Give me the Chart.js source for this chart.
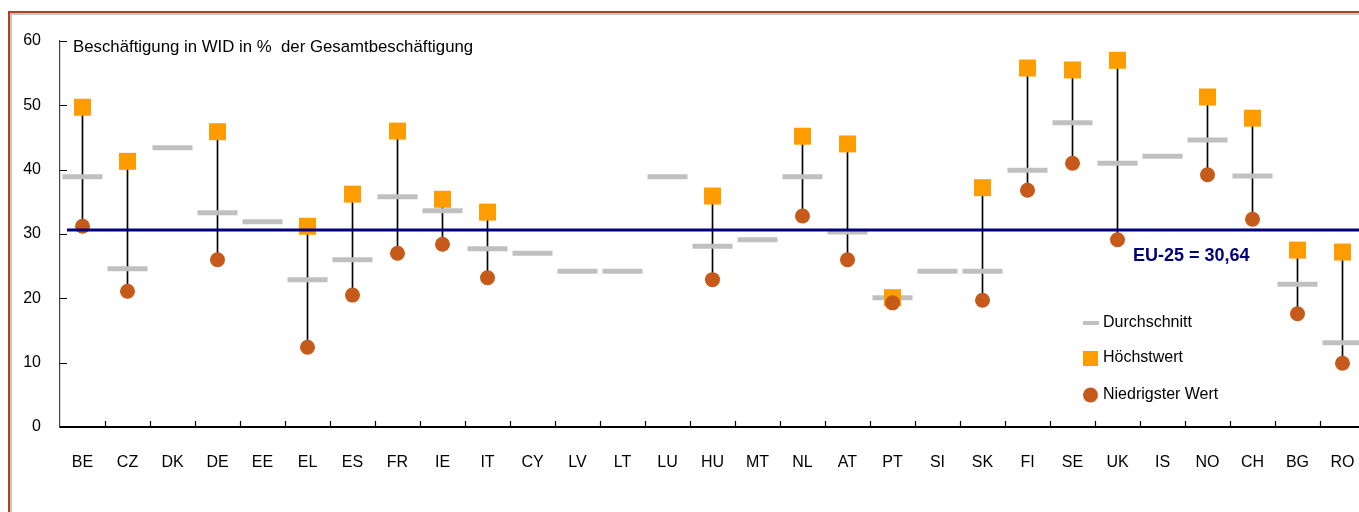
<!DOCTYPE html>
<html>
<head>
<meta charset="utf-8">
<script src="https://cdn.jsdelivr.net/npm/chart.js@4.4.0/dist/chart.umd.min.js"></script>
<style>
  html, body { margin: 0; padding: 0; background: #fff; overflow: hidden; }
  #wrap { position: relative; width: 1359px; height: 512px; overflow: hidden; }
  #chart { position: absolute; left: 0; top: 0; }
  #frame {
    position: absolute; left: 8px; top: 11px; width: 2000px; height: 1000px;
    border-top: 2px solid #a9461d; border-left: 2px solid #a9461d;
    box-shadow: inset 2px 2px 0 #c4c4c4; pointer-events: none;
  }
</style>
</head>
<body>
<div id="wrap">
  <!-- canvas is wider than the window: the plot runs past the right edge like in the original -->
  <canvas id="chart" width="1390" height="512"></canvas>
  <div id="frame"></div>
</div>
<script>
const countries = ['BE', 'CZ', 'DK', 'DE', 'EE', 'EL', 'ES', 'FR', 'IE', 'IT', 'CY', 'LV', 'LT', 'LU', 'HU',
  'MT', 'NL', 'AT', 'PT', 'SI', 'SK', 'FI', 'SE', 'UK', 'IS', 'NO', 'CH', 'BG', 'RO'];
const avgValues = [38.9, 24.6, 43.4, 33.3, 31.9, 22.9, 26.0, 35.8, 33.6, 27.7, 27.0, 24.2, 24.2, 38.9, 28.1,
  29.1, 38.9, 30.3, 20.1, 24.2, 24.2, 39.9, 47.3, 41.0, 42.1, 44.6, 39.0, 22.2, 13.1];
const maxValues = [49.7, 41.3, null, 45.9, null, 31.2, 36.2, 46.0, 35.4, 33.4, null, null, null, null, 35.9,
  null, 45.2, 44.0, 20.1, null, 37.2, 55.8, 55.5, 57.0, null, 51.3, 48.0, 27.5, 27.2];
const minValues = [31.2, 21.1, null, 26.0, null, 12.4, 20.5, 27.0, 28.4, 23.2, null, null, null, null, 22.9,
  null, 32.8, 26.0, 19.3, null, 19.7, 36.8, 41.0, 29.1, null, 39.2, 32.3, 17.6, 9.9];
const euValue = 30.64;
const euLabel = 'EU-25 = 30,64';
const titleText = 'Beschäftigung in WID in %  der Gesamtbeschäftigung';

const rangeData = countries.map((c, i) => maxValues[i] == null ? null : [minValues[i], maxValues[i]]);

const FONT = "'Liberation Sans', Arial, sans-serif";
const ORANGE = '#ff9c00';
const BROWN = '#c55a1a';
const GREY = '#c0c0c0';
const NAVY = '#00007f';

const decor = {
  id: 'decor',
  afterDatasetsDraw(chart) {
    const ctx = chart.ctx;
    const x = chart.scales.x, y = chart.scales.y;
    const area = chart.chartArea;
    ctx.save();

    // tick marks inside the axes
    ctx.strokeStyle = '#000';
    ctx.lineWidth = 1.2;
    const half = (x.getPixelForValue(1) - x.getPixelForValue(0)) / 2;
    ctx.beginPath();
    for (let i = 0; i < countries.length; i++) {
      const px = Math.round(x.getPixelForValue(i) + half) + 0.5;
      ctx.moveTo(px, area.bottom);
      ctx.lineTo(px, area.bottom - 6);
    }
    y.ticks.forEach(t => {
      const py = Math.round(y.getPixelForValue(t.value)) + 0.5;
      ctx.moveTo(area.left, py);
      ctx.lineTo(area.left + 7, py);
    });
    ctx.stroke();

    // EU average line
    const ey = y.getPixelForValue(euValue);
    ctx.strokeStyle = NAVY;
    ctx.lineWidth = 3;
    ctx.beginPath();
    ctx.moveTo(area.left + 7, ey);
    ctx.lineTo(area.right, ey);
    ctx.stroke();

    ctx.fillStyle = NAVY;
    ctx.font = 'bold 18px ' + FONT;
    ctx.textBaseline = 'middle';
    ctx.textAlign = 'left';
    ctx.fillText(euLabel, 1133, ey + 26);

    // title inside the plot
    ctx.fillStyle = '#000';
    ctx.font = '16.8px ' + FONT;
    ctx.fillText(titleText, area.left + 13, y.getPixelForValue(60) + 6);

    // legend
    const lx = 1083;
    ctx.strokeStyle = GREY;
    ctx.lineWidth = 4;
    ctx.beginPath();
    ctx.moveTo(lx, 323);
    ctx.lineTo(lx + 16, 323);
    ctx.stroke();
    ctx.fillStyle = ORANGE;
    ctx.fillRect(lx, 351, 15, 15);
    ctx.fillStyle = BROWN;
    ctx.beginPath();
    ctx.arc(lx + 7.5, 395, 7.5, 0, Math.PI * 2);
    ctx.fill();
    ctx.fillStyle = '#000';
    ctx.font = '16px ' + FONT;
    ctx.fillText(chart.data.datasets[1].label, lx + 20, 323);
    ctx.fillText(chart.data.datasets[2].label, lx + 20, 358);
    ctx.fillText(chart.data.datasets[3].label, lx + 20, 395);

    ctx.restore();
  }
};

new Chart(document.getElementById('chart'), {
  type: 'bar',
  data: {
    labels: countries,
    datasets: [
      { type: 'bar', label: 'Spanne', data: rangeData, backgroundColor: '#000', barThickness: 1, order: 4 },
      { type: 'line', label: 'Durchschnitt', data: avgValues, showLine: false, pointStyle: 'line',
        pointRadius: 20, pointBorderWidth: 5, pointBorderColor: GREY, borderColor: GREY, order: 3 },
      { type: 'line', label: 'Höchstwert', data: maxValues, showLine: false, pointStyle: 'rect',
        pointRadius: 12, pointBackgroundColor: ORANGE, pointBorderWidth: 0, order: 2 },
      { type: 'line', label: 'Niedrigster Wert', data: minValues, showLine: false, pointStyle: 'circle',
        pointRadius: 7.5, pointBackgroundColor: BROWN, pointBorderWidth: 0, order: 1 }
    ]
  },
  options: {
    responsive: false,
    animation: false,
    layout: { padding: { top: 41, right: 3, left: 0, bottom: 0 } },
    plugins: { legend: { display: false }, tooltip: { enabled: false } },
    scales: {
      x: {
        offset: true,
        grid: { display: false, drawTicks: true, tickLength: 26 },
        border: { display: true, color: '#000', width: 2 },
        ticks: { color: '#000', font: { family: FONT, size: 16 }, padding: 0, maxRotation: 0, autoSkip: false },
        afterFit(scale) {
          scale.height = 85;
          scale.paddingLeft = 0;
          scale.paddingRight = 0;
        }
      },
      y: {
        min: 0, max: 60,
        grid: { display: false, drawTicks: false, tickLength: 0 },
        border: { display: true, color: '#444', width: 1.2 },
        ticks: { stepSize: 10, color: '#000', font: { family: FONT, size: 16 }, padding: 19 },
        afterFit(scale) { scale.width = 60; }
      }
    }
  },
  plugins: [decor]
});
</script>
</body>
</html>
